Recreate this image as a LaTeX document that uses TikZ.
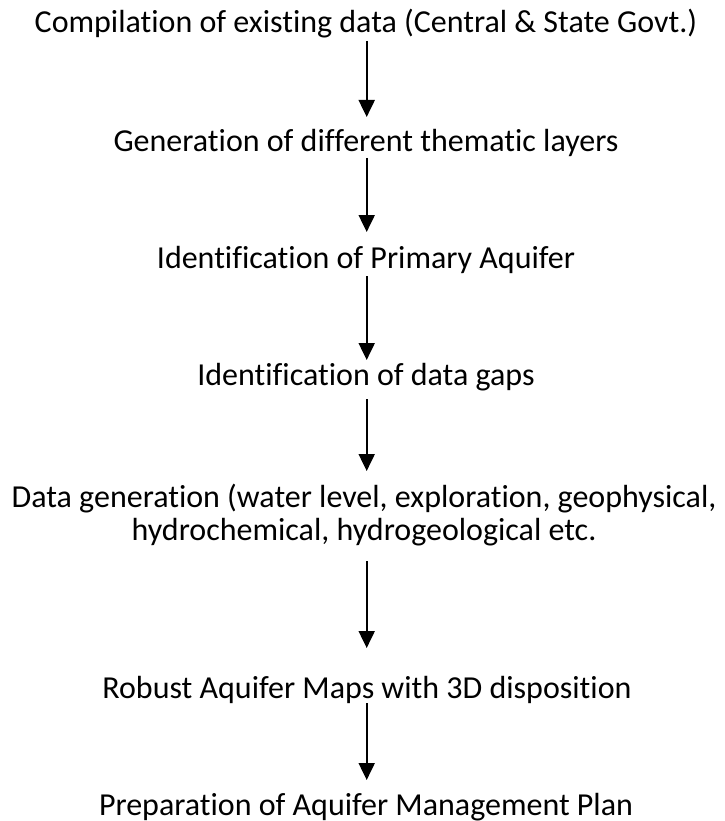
\documentclass[tikz,border=0pt]{standalone}
\usepackage{fontspec}
\setmainfont[Ligatures={NoCommon,NoContextual}]{Carlito}
\usetikzlibrary{arrows.meta,calc}
\begin{document}
\begin{tikzpicture}[x=1pt,y=-1pt,
  lbl/.style={anchor=base,inner sep=0pt,font=\fontsize{32}{38}\selectfont,align=center},
  flow/.style={line width=2pt,-{Triangle[length=17pt,width=16pt]}}]
\useasboundingbox (0,0) rectangle (724,821);
\node[lbl] (t1) at (366,33) {Compilation of existing data (Central \& State Govt.)};
\node[lbl] (t2) at (366,152) {Generation of different thematic layers};
\node[lbl] (t3) at (366,268) {Identification of Primary Aquifer};
\node[lbl] (t4) at (366,385) {Identification of data gaps};
\node[lbl] (t5) at (364,507) {Data generation (water level, exploration, geophysical,};
\node[lbl] (t5b) at (364,540) {hydrochemical, hydrogeological etc.};
\node[lbl] (t6) at (367,698) {Robust Aquifer Maps with 3D disposition};
\node[lbl] (t7) at (366,815) {Preparation of Aquifer Management Plan};
\draw[flow] ($(t1.base)+(0.7,8)$) -- ($(t2.base)+(0.7,-35)$);
\draw[flow] ($(t2.base)+(0.7,6)$) -- ($(t3.base)+(0.7,-36)$);
\draw[flow] ($(t3.base)+(0.7,8)$) -- ($(t4.base)+(0.7,-25)$);
\draw[flow] ($(t4.base)+(0.7,14)$) -- ($(t5.base)+(2.7,-36)$);
\draw[flow] ($(t5b.base)+(2.7,21)$) -- ($(t6.base)+(-0.3,-50)$);
\draw[flow] ($(t6.base)+(-0.3,5)$) -- ($(t7.base)+(0.7,-35)$);
\end{tikzpicture}
\end{document}
